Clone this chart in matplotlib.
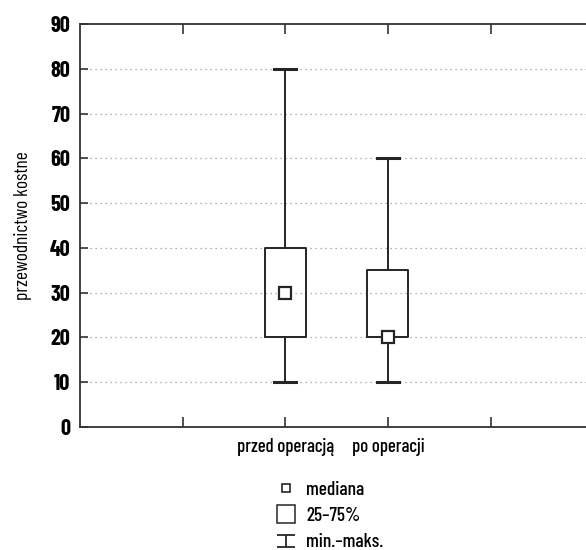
import matplotlib
matplotlib.use("Agg")
import matplotlib.pyplot as plt
from matplotlib.lines import Line2D
from matplotlib.path import Path

# Data
categories = ["przed operacją", "po operacji"]
positions = [2, 3]
medians = [30, 20]
q1 = [20, 20]
q3 = [40, 35]
mins = [10, 10]
maxs = [80, 60]
y_ticks = [0, 10, 20, 30, 40, 50, 60, 70, 80, 90]
y_label = "przewodnictwo kostne"
legend_labels = ["mediana", "25–75%", "min.–maks."]

plt.rcParams["font.family"] = ["Barlow Condensed", "DejaVu Sans"]
plt.rcParams["font.weight"] = 500

fig = plt.figure(figsize=(5.86, 5.5), dpi=100)
ax = fig.add_axes([80 / 586, 123 / 550, 506 / 586, 403 / 550])

stats = []
for i in range(len(categories)):
    stats.append(dict(med=medians[i], mean=medians[i], q1=q1[i], q3=q3[i],
                      whislo=mins[i], whishi=maxs[i], fliers=[]))

ink = "#262626"
ax.bxp(stats, positions=positions, widths=0.4, showmeans=True, showfliers=False,
       boxprops=dict(color=ink, linewidth=1.4),
       whiskerprops=dict(color=ink, linewidth=1.4),
       capprops=dict(color=ink, linewidth=2.2),
       medianprops=dict(linewidth=0),
       meanprops=dict(marker="s", markersize=8, markerfacecolor="white",
                      markeredgecolor=ink, markeredgewidth=1.6),
       capwidths=0.21, manage_ticks=False)

ax.set_xlim(0, 4.93)
ax.set_ylim(0, 90)
ax.set_yticks(y_ticks)
ax.set_yticklabels([str(v) for v in y_ticks], fontsize=16, fontweight=700)
ax.set_xticks([1, 2, 3, 4])
ax.set_xticklabels(["", categories[0], categories[1], ""], fontsize=13.5)
ax.set_ylabel(y_label, fontsize=14, labelpad=13)

for v in y_ticks[1:-1]:
    ax.axhline(v, color="#999999", linestyle=(0, (1, 3)), linewidth=0.9, zorder=0)

ax.tick_params(direction="in", length=7, width=1.2, color="#333333",
               top=True, right=False, pad=8)
ax.tick_params(axis="y", length=6, pad=7)
for side in ["left", "bottom", "top"]:
    ax.spines[side].set_linewidth(1.3)
    ax.spines[side].set_color("#333333")
ax.spines["right"].set_visible(False)

# whisker-range legend symbol: bar, stem, bar
range_marker = Path([(-1, 0.7), (1, 0.7), (0, 0.7), (0, -0.7), (-1, -0.7), (1, -0.7)],
                    [Path.MOVETO, Path.LINETO, Path.MOVETO, Path.LINETO,
                     Path.MOVETO, Path.LINETO])
handles = [
    Line2D([], [], linestyle="none", marker="s", markersize=5.5,
           markerfacecolor="white", markeredgecolor=ink, markeredgewidth=1.2),
    Line2D([], [], linestyle="none", marker="s", markersize=12.5,
           markerfacecolor="white", markeredgecolor=ink, markeredgewidth=1.1),
    Line2D([], [], linestyle="none", marker=range_marker, markersize=12.5,
           markeredgecolor=ink, markeredgewidth=1.3),
]
fig.legend(handles, legend_labels, loc="upper left",
           bbox_to_anchor=(277 / 586, 69 / 550),
           frameon=False, fontsize=14, handlelength=0.9, handletextpad=0.6,
           labelspacing=0.42, borderpad=0, borderaxespad=0)

fig.savefig("out.png", dpi=100)
